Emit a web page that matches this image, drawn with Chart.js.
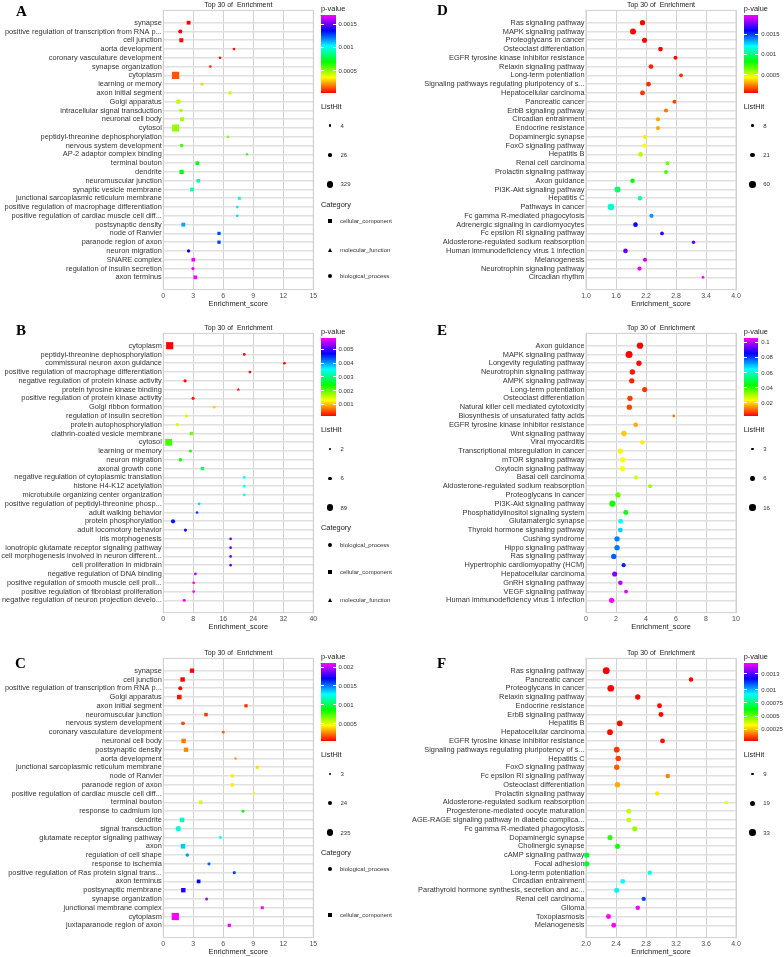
<!DOCTYPE html>
<html lang="en">
<head>
<meta charset="UTF-8">
<title>Top 30 of Enrichment</title>
<script src="https://cdn.jsdelivr.net/npm/chart.js"></script>
<style>
  html, body { margin: 0; padding: 0; background: #fff; overflow: hidden; }
  #fig { position: relative; width: 784px; height: 957px; font-family: 'Liberation Sans', Arial, sans-serif; color: #1a1a1a; }
  .panel { position: absolute; width: 392px; height: 314px; }
  .panel canvas { position: absolute; left: 0; top: 0; }
  .t { position: absolute; white-space: pre; line-height: 1; transform: translateY(-50%); }
</style>
</head>
<body>
<div id="fig"></div>
<script>
// ---- A: GO terms ----
const aTerms = ["synapse","positive regulation of transcription from RNA p...","cell junction","aorta development","coronary vasculature development","synapse organization","cytoplasm","learning or memory","axon initial segment","Golgi apparatus","intracellular signal transduction","neuronal cell body","cytosol","peptidyl-threonine dephosphorylation","nervous system development","AP-2 adaptor complex binding","terminal bouton","dendrite","neuromuscular junction","synaptic vesicle membrane","junctional sarcoplasmic reticulum membrane","positive regulation of macrophage differentiation","positive regulation of cardiac muscle cell diff...","postsynaptic density","node of Ranvier","paranode region of axon","neuron migration","SNARE complex","regulation of insulin secretion","axon terminus"];
const aScore = [2.53,1.7,1.8,7.07,5.67,4.7,1.23,3.87,6.67,1.5,1.77,1.87,1.23,6.47,1.83,8.37,3.4,1.83,3.5,2.87,7.6,7.4,7.4,2.0,5.57,5.57,2.53,3.0,2.97,3.2];
const aPval = [0.00003,0.000031,0.000041,0.000047,0.000058,0.000108,0.000141,0.000297,0.000431,0.000448,0.000475,0.000486,0.000503,0.00052,0.000615,0.000642,0.000687,0.000726,0.000893,0.000921,0.000976,0.00106,0.001077,0.001143,0.001266,0.001277,0.001366,0.00168,0.00169,0.0017];
const aHits = [18,50,25,4,4,5,329,5,5,30,20,20,300,4,20,4,14,35,12,14,4,4,4,20,6,6,12,12,10,14];
const aCat = ["CC","BP","CC","BP","BP","BP","CC","BP","CC","CC","BP","CC","CC","BP","BP","MF","CC","CC","CC","CC","CC","BP","BP","CC","CC","CC","BP","CC","BP","CC"];
const aXTicks = [0,3,6,9,12,15];
const aPBreaks = [0.0005,0.001,0.0015];
const aHitBreaks = [4,26,329];

// ---- B ----
const bTerms = ["cytoplasm","peptidyl-threonine dephosphorylation","commissural neuron axon guidance","positive regulation of macrophage differentiation","negative regulation of protein kinase activity","protein tyrosine kinase binding","positive regulation of protein kinase activity","Golgi ribbon formation","regulation of insulin secretion","protein autophosphorylation","clathrin-coated vesicle membrane","cytosol","learning or memory","neuron migration","axonal growth cone","negative regulation of cytoplasmic translation","histone H4-K12 acetylation","microtubule organizing center organization","positive regulation of peptidyl-threonine phosp...","adult walking behavior","protein phosphorylation","adult locomotory behavior","iris morphogenesis","ionotropic glutamate receptor signaling pathway","cell morphogenesis involved in neuron different...","cell proliferation in midbrain","negative regulation of DNA binding","positive regulation of smooth muscle cell proli...","positive regulation of fibroblast proliferation","negative regulation of neuron projection develo..."];
const bScore = [1.7,21.6,32.3,23.1,5.8,20.0,7.95,13.57,6.16,3.75,7.5,1.43,7.23,4.55,10.45,21.6,21.6,21.6,9.55,9.0,2.6,5.9,17.95,17.95,17.95,17.95,8.57,8.1,8.1,5.6];
const bPval = [0.00018,0.00019,0.0002,0.00021,0.00022,0.00023,0.00026,0.00111,0.0012,0.00148,0.00195,0.00214,0.00233,0.00242,0.00289,0.00355,0.00355,0.00355,0.00374,0.0044,0.00458,0.00486,0.00514,0.00514,0.00514,0.00514,0.00543,0.0058,0.0058,0.0058];
const bHits = [85,2,2,2,4,2,3,2,3,4,3,75,3,5,3,2,2,2,2,2,15,3,2,2,2,2,2,2,2,3];
const bCat = ["CC","BP","BP","BP","BP","MF","BP","BP","BP","BP","CC","CC","BP","BP","CC","BP","BP","BP","BP","BP","BP","BP","BP","BP","BP","BP","BP","BP","BP","BP"];
const bXTicks = [0,8,16,24,32,40];
const bPBreaks = [0.001,0.002,0.003,0.004,0.005];
const bHitBreaks = [2,6,89];

// ---- C ----
const cTerms = ["synapse","cell junction","positive regulation of transcription from RNA p...","Golgi apparatus","axon initial segment","neuromuscular junction","nervous system development","coronary vasculature development","neuronal cell body","postsynaptic density","aorta development","junctional sarcoplasmic reticulum membrane","node of Ranvier","paranode region of axon","positive regulation of cardiac muscle cell diff...","terminal bouton","response to cadmium ion","dendrite","signal transduction","glutamate receptor signaling pathway","axon","regulation of cell shape","response to ischemia","positive regulation of Ras protein signal trans...","axon terminus","postsynaptic membrane","synapse organization","junctional membrane complex","cytoplasm","juxtaparanode region of axon"];
const cScore = [2.87,1.93,1.7,1.6,8.27,4.27,1.97,6.0,2.03,2.27,7.23,9.4,6.9,6.9,9.1,3.73,7.97,1.87,1.5,5.7,1.97,2.4,4.57,7.1,3.53,2.0,4.33,9.9,1.2,6.6];
const cPval = [0.000041,0.000043,0.000045,0.000074,0.000109,0.000122,0.000164,0.000191,0.000232,0.00026,0.000301,0.000397,0.000418,0.00042,0.000438,0.000521,0.000898,0.001173,0.001221,0.001276,0.001358,0.00144,0.001523,0.001578,0.001688,0.001743,0.001990,0.0021,0.0021,0.0021];
const cHits = [25,30,30,35,4,6,28,3,30,28,3,3,4,4,3,10,4,35,100,4,35,12,6,5,10,30,5,3,235,4];
const cCat = ["CC","CC","BP","CC","CC","CC","BP","BP","CC","CC","BP","CC","CC","CC","BP","CC","BP","CC","BP","BP","CC","BP","BP","BP","CC","CC","BP","CC","CC","CC"];
const cXTicks = [0,3,6,9,12,15];
const cPBreaks = [0.0005,0.001,0.0015,0.002];
const cHitBreaks = [3,24,235];

// ---- D: KEGG ----
const dTerms = ["Ras signaling pathway","MAPK signaling pathway","Proteoglycans in cancer","Osteoclast differentiation","EGFR tyrosine kinase inhibitor resistance","Relaxin signaling pathway","Long-term potentiation","Signaling pathways regulating pluripotency of s...","Hepatocellular carcinoma","Pancreatic cancer","ErbB signaling pathway","Circadian entrainment","Endocrine resistance","Dopaminergic synapse","FoxO signaling pathway","Hepatitis B","Renal cell carcinoma","Prolactin signaling pathway","Axon guidance","PI3K-Akt signaling pathway","Hepatitis C","Pathways in cancer","Fc gamma R-mediated phagocytosis","Adrenergic signaling in cardiomyocytes","Fc epsilon RI signaling pathway","Aldosterone-regulated sodium reabsorption","Human immunodeficiency virus 1 infection","Melanogenesis","Neurotrophin signaling pathway","Circadian rhythm"];
const dScore = [2.13,1.94,2.17,2.49,2.79,2.30,2.90,2.25,2.13,2.77,2.60,2.44,2.44,2.18,2.17,2.09,2.63,2.60,1.93,1.63,2.08,1.50,2.31,1.99,2.52,3.15,1.79,2.18,2.07,3.34];
const dPval = [0.00006,0.000063,0.000066,0.00007,0.000075,0.000108,0.00012,0.000125,0.00013,0.000159,0.000236,0.000312,0.000315,0.000414,0.00044,0.000555,0.000663,0.000727,0.000822,0.000982,0.00108,0.00114,0.00136,0.00159,0.00168,0.00173,0.00175,0.00189,0.00195,0.00197];
const dHits = [30,45,28,22,14,22,12,22,24,14,16,16,16,18,18,20,14,13,20,45,18,60,15,20,12,10,22,15,16,8];
const dXTicks = [1.0,1.6,2.2,2.8,3.4,4.0];
const dPBreaks = [0.0005,0.001,0.0015];
const dHitBreaks = [8,21,60];

// ---- E ----
const eTerms = ["Axon guidance","MAPK signaling pathway","Longevity regulating pathway","Neurotrophin signaling pathway","AMPK signaling pathway","Long-term potentiation","Osteoclast differentiation","Natural killer cell mediated cytotoxicity","Biosynthesis of unsaturated fatty acids","EGFR tyrosine kinase inhibitor resistance","Wnt signaling pathway","Viral myocarditis","Transcriptional misregulation in cancer","mTOR signaling pathway","Oxytocin signaling pathway","Basal cell carcinoma","Aldosterone-regulated sodium reabsorption","Proteoglycans in cancer","PI3K-Akt signaling pathway","Phosphatidylinositol signaling system","Glutamatergic synapse","Thyroid hormone signaling pathway","Cushing syndrome","Hippo signaling pathway","Ras signaling pathway","Hypertrophic cardiomyopathy (HCM)","Hepatocellular carcinoma","GnRH signaling pathway","VEGF signaling pathway","Human immunodeficiency virus 1 infection"];
const eScore = [3.6,2.87,3.53,3.09,3.05,3.91,2.93,2.89,5.85,3.31,2.53,3.76,2.29,2.45,2.43,3.33,4.27,2.13,1.76,2.65,2.31,2.29,2.07,2.07,1.85,2.51,1.91,2.29,2.67,1.71];
const ePval = [0.0029,0.0032,0.0036,0.0045,0.0055,0.0069,0.0076,0.0083,0.0124,0.0165,0.0192,0.0216,0.0226,0.0233,0.0234,0.0274,0.0318,0.0353,0.0421,0.0455,0.0643,0.0677,0.0746,0.0752,0.0773,0.0821,0.095,0.1002,0.1026,0.1053];
const eHits = [14,19,9,9,9,8,9,9,3,6,9,5,9,9,9,5,4,9,14,7,7,7,9,9,9,5,8,6,4,9];
const eXTicks = [0,2,4,6,8,10];
const ePBreaks = [0.02,0.04,0.06,0.08,0.1];
const eHitBreaks = [3,6,16];

// ---- F ----
const fTerms = ["Ras signaling pathway","Pancreatic cancer","Proteoglycans in cancer","Relaxin signaling pathway","Endocrine resistance","ErbB signaling pathway","Hepatitis B","Hepatocellular carcinoma","EGFR tyrosine kinase inhibitor resistance","Signaling pathways regulating pluripotency of s...","Hepatitis C","FoxO signaling pathway","Fc epsilon RI signaling pathway","Osteoclast differentiation","Prolactin signaling pathway","Aldosterone-regulated sodium reabsorption","Progesterone-mediated oocyte maturation","AGE-RAGE signaling pathway in diabetic complica...","Fc gamma R-mediated phagocytosis","Dopaminergic synapse","Cholinergic synapse","cAMP signaling pathway","Focal adhesion","Long-term potentiation","Circadian entrainment","Parathyroid hormone synthesis, secretion and ac...","Renal cell carcinoma","Glioma","Toxoplasmosis","Melanogenesis"];
const fScore = [2.27,3.40,2.33,2.69,2.98,3.00,2.45,2.32,3.02,2.41,2.43,2.41,3.09,2.42,2.95,3.87,2.57,2.57,2.65,2.32,2.42,2.01,2.01,2.85,2.49,2.41,2.77,2.69,2.30,2.37];
const fPval = [0.000033,0.000035,0.000036,0.000038,0.00004,0.000041,0.000042,0.000043,0.000047,0.000091,0.000105,0.00014,0.000179,0.000228,0.000301,0.00035,0.000399,0.0004,0.000448,0.00057,0.000595,0.000668,0.00067,0.000888,0.000913,0.000923,0.001133,0.00149,0.001495,0.0015];
const fHits = [36,14,34,20,17,17,25,24,16,23,21,21,14,21,14,10,17,17,18,18,18,20,20,14,16,18,13,14,17,17];
const fXTicks = [2.0,2.4,2.8,3.2,3.6,4.0];
const fPBreaks = [0.00025,0.0005,0.00075,0.001,0.0013];
const fHitBreaks = [9,19,33];

const catNames = { BP: "biological_process", CC: "cellular_component", MF: "molecular_function" };

// ---- drawing helpers ----
const W = 392, H = 314;
const PLOT_TOP = 10.4, PLOT_BOTTOM = 289.6;
const FONT = "'Liberation Sans', Arial, sans-serif";
const R_MIN = 1.35, R_MAX = 3.3;
const shapeOf = { CC: 'rect', MF: 'triangle', BP: 'circle' };
const shapeScale = { rect: 1.55, triangle: 1.45, circle: 1 };
const fig = document.getElementById('fig');

function hue(p, lo, hi) { const t = Math.min(1, Math.max(0, (p - lo) / (hi - lo))); return 300 * t; }
function colour(p, lo, hi) { return 'hsl(' + hue(p, lo, hi).toFixed(1) + ',100%,50%)'; }
function radius(n, lo, hi) { const t = Math.max(0, (n - lo) / (hi - lo)); return R_MIN + (R_MAX - R_MIN) * Math.sqrt(t); }

function text(parent, str, x, cy, size, extra) {
  const d = document.createElement('div');
  d.className = 't';
  d.textContent = str;
  d.style.left = x + 'px';
  d.style.top = cy + 'px';
  d.style.fontSize = size + 'px';
  if (extra) Object.assign(d.style, extra);
  parent.appendChild(d);
  return d;
}
function block(parent, x, y, w, h, css) {
  const d = document.createElement('div');
  Object.assign(d.style, { position: 'absolute', left: x + 'px', top: y + 'px', width: w + 'px', height: h + 'px' }, css || {});
  parent.appendChild(d);
  return d;
}

const frame = {
  id: 'frame',
  beforeDatasetsDraw(chart) {
    const { ctx, chartArea: a } = chart;
    ctx.save();
    ctx.strokeStyle = '#d0d0d0';
    ctx.lineWidth = 1;
    ctx.strokeRect(a.left, a.top, a.right - a.left, a.bottom - a.top);
    ctx.restore();
  }
};

const panels = [
  { id: 'A', x: 0, y: 0, letter: [16, 11], terms: aTerms, score: aScore, pval: aPval, hits: aHits, cat: aCat, ticks: aXTicks, dec: 0, pBreaks: aPBreaks, hitBreaks: aHitBreaks, plotL: 163.3, plotR: 313.3, legX: 321, cats: ['CC', 'MF', 'BP'], catY: [221, 250, 276] },
  { id: 'B', x: 0, y: 323.3, letter: [16, 7.2], terms: bTerms, score: bScore, pval: bPval, hits: bHits, cat: bCat, ticks: bXTicks, dec: 0, pBreaks: bPBreaks, hitBreaks: bHitBreaks, plotL: 163.3, plotR: 313.3, legX: 321, cats: ['BP', 'CC', 'MF'], catY: [221.7, 249, 276.7] },
  { id: 'C', x: 0, y: 648.3, letter: [15, 15.2], terms: cTerms, score: cScore, pval: cPval, hits: cHits, cat: cCat, ticks: cXTicks, dec: 0, pBreaks: cPBreaks, hitBreaks: cHitBreaks, plotL: 163.3, plotR: 313.3, legX: 321, cats: ['BP', 'CC'], catY: [221, 266.7] },
  { id: 'D', x: 392, y: 0, letter: [45, 10], terms: dTerms, score: dScore, pval: dPval, hits: dHits, cat: null, ticks: dXTicks, dec: 1, pBreaks: dPBreaks, hitBreaks: dHitBreaks, plotL: 194, plotR: 344, legX: 351.7 },
  { id: 'E', x: 392, y: 323.3, letter: [45, 7.2], terms: eTerms, score: eScore, pval: ePval, hits: eHits, cat: null, ticks: eXTicks, dec: 0, pBreaks: ePBreaks, hitBreaks: eHitBreaks, plotL: 194, plotR: 344, legX: 351.7 },
  { id: 'F', x: 392, y: 648.3, letter: [45, 15.2], terms: fTerms, score: fScore, pval: fPval, hits: fHits, cat: null, ticks: fXTicks, dec: 1, pBreaks: fPBreaks, hitBreaks: fHitBreaks, plotL: 194, plotR: 344, legX: 351.7 }
];

function makePanel(p) {
  const box = block(fig, p.x, p.y, W, H);
  box.className = 'panel';
  const canvas = document.createElement('canvas');
  canvas.width = W; canvas.height = H;
  canvas.style.width = W + 'px'; canvas.style.height = H + 'px';
  box.appendChild(canvas);

  const lo = Math.min(...p.pval), hi = Math.max(...p.pval);
  const hLo = p.hitBreaks[0], hHi = p.hitBreaks[p.hitBreaks.length - 1];
  const cats = p.cat || p.terms.map(() => 'BP');
  const styles = cats.map(c => shapeOf[c]);
  const radii = p.hits.map((n, i) => radius(n, hLo, hHi) * shapeScale[styles[i]]);
  const colours = p.pval.map(v => colour(v, lo, hi));

  new Chart(canvas, {
    type: 'scatter',
    data: {
      datasets: [{
        data: p.score.map((s, i) => ({ x: s, y: i })),
        pointStyle: styles,
        pointRadius: radii,
        pointHoverRadius: radii,
        backgroundColor: colours,
        borderColor: colours,
        borderWidth: 0,
        clip: false
      }]
    },
    options: {
      responsive: false,
      animation: false,
      devicePixelRatio: 1,
      events: [],
      layout: { padding: { left: 0, right: W - p.plotR, top: PLOT_TOP, bottom: 0 } },
      plugins: { legend: { display: false }, tooltip: { enabled: false } },
      scales: {
        x: {
          type: 'linear',
          min: p.ticks[0],
          max: p.ticks[p.ticks.length - 1],
          afterBuildTicks: ax => { ax.ticks = p.ticks.map(v => ({ value: v })); },
          afterFit: ax => { ax.height = H - PLOT_BOTTOM; },
          grid: { color: '#d2d2d2', lineWidth: 1, drawTicks: false },
          border: { display: false },
          ticks: { padding: 2.5, color: '#4d4d4d', font: { family: FONT, size: 7 }, maxRotation: 0, autoSkip: false, callback: v => Number(v).toFixed(p.dec) },
          title: { display: true, text: 'Enrichment_score', color: '#1a1a1a', font: { family: FONT, size: 7.4 }, padding: { top: 0, bottom: 5.5 } }
        },
        y: {
          type: 'linear',
          reverse: true,
          min: -1.4,
          max: p.terms.length - 1 + 1.4,
          afterBuildTicks: ax => { ax.ticks = p.terms.map((t, i) => ({ value: i })); },
          afterFit: ax => { ax.width = p.plotL; },
          grid: { color: '#e0e0e0', lineWidth: 1.6, drawTicks: false },
          border: { display: false },
          ticks: { padding: 1.5, color: '#333', font: { family: FONT, size: 7.4 }, autoSkip: false, callback: v => p.terms[v] }
        }
      }
    },
    plugins: [frame]
  });

  // panel letter and title
  text(box, p.id, p.letter[0], p.letter[1], 15, { fontFamily: "'Liberation Serif', 'Times New Roman', serif", fontWeight: 'bold', color: '#000' });
  text(box, 'Top 30 of  Enrichment', (p.plotL + p.plotR) / 2, 4, 7, { transform: 'translate(-50%,-50%)' });

  // colour bar legend
  const lx = p.legX, barTop = 15, barH = 77.5, barW = 14.7;
  text(box, 'p-value', lx, 9, 7.4);
  block(box, lx, barTop, barW, barH, { background: 'linear-gradient(to top, hsl(0,100%,50%), hsl(60,100%,50%), hsl(120,100%,50%), hsl(180,100%,50%), hsl(240,100%,50%), hsl(300,100%,50%))' });
  p.pBreaks.forEach(v => {
    const y = barTop + (hi - v) / (hi - lo) * barH;
    block(box, lx, y - 0.5, 3, 1, { background: '#fff' });
    block(box, lx + barW - 3, y - 0.5, 3, 1, { background: '#fff' });
    text(box, String(v), lx + 17.5, y, 6, { color: '#333' });
  });

  // size legend
  text(box, 'ListHit', lx, 106.7, 7.4);
  [125.7, 155, 184.3].forEach((cy, k) => {
    const r = radius(p.hitBreaks[k], hLo, hHi);
    block(box, lx + 9 - r, cy - r, 2 * r, 2 * r, { background: '#000', borderRadius: '50%' });
    text(box, String(p.hitBreaks[k]), lx + 19.5, cy, 6, { color: '#333' });
  });

  // shape legend
  if (p.cats) {
    text(box, 'Category', lx, 205, 7.4);
    p.cats.forEach((c, k) => {
      const cy = p.catY[k], cx = lx + 9;
      if (c === 'CC') block(box, cx - 1.9, cy - 1.9, 3.8, 3.8, { background: '#000' });
      else if (c === 'BP') block(box, cx - 2, cy - 2, 4, 4, { background: '#000', borderRadius: '50%' });
      else block(box, cx - 2.3, cy - 2.1, 0, 0, { borderLeft: '2.3px solid transparent', borderRight: '2.3px solid transparent', borderBottom: '4px solid #000' });
      text(box, catNames[c], lx + 19, cy, 6, { color: '#333' });
    });
  }
}

panels.forEach(makePanel);
</script>
</body>
</html>
